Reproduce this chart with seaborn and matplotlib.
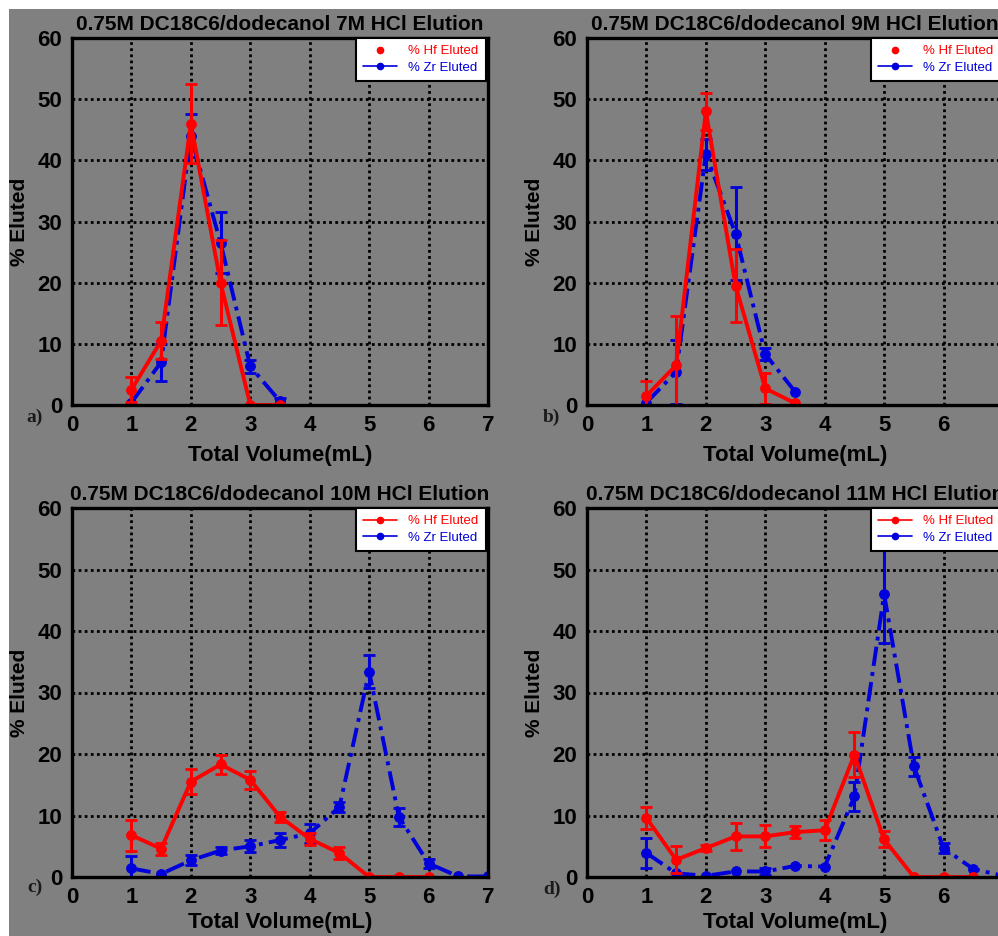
import matplotlib
matplotlib.use("Agg")
import matplotlib.pyplot as plt
from matplotlib.lines import Line2D
from matplotlib.patches import Rectangle
import numpy as np
import pandas as pd
import seaborn as sns

sns.set_theme(style="ticks")
plt.rcParams["font.family"] = ["Liberation Sans", "DejaVu Sans"]

GRAY = "#808080"
HF_COLOR = "#ff0000"
ZR_COLOR = "#0000dc"

titles = [
    "0.75M DC18C6/dodecanol 7M HCl Elution",
    "0.75M DC18C6/dodecanol 9M HCl Elution",
    "0.75M DC18C6/dodecanol 10M HCl Elution",
    "0.75M DC18C6/dodecanol 11M HCl Elution",
]
panel_tags = ["a)", "b)", "c)", "d)"]
hf_label = "% Hf Eluted"
zr_label = "% Zr Eluted"
x_ticks = [0, 1, 2, 3, 4, 5, 6, 7]
y_ticks = [0, 10, 20, 30, 40, 50, 60]

# (a) 7M HCl
vol_a = [1, 1.5, 2, 2.5, 3, 3.5]
hf_a = [2.5, 10.5, 46, 20, 0, 0]
hf_a_err = [2, 3, 6.5, 7, 0, 0]
zr_a = [0.4, 7, 44, 26.5, 6.3, 0.6]
zr_a_err = [0, 3, 3.5, 5, 1, 0.6]

# (b) 9M HCl
vol_b = [1, 1.5, 2, 2.5, 3, 3.5]
hf_b = [1.5, 6.5, 48, 19.5, 2.7, 0.3]
hf_b_err = [2.5, 8, 3, 6, 2.5, 0]
zr_b = [0.4, 5.4, 41, 28, 8.3, 2.2]
zr_b_err = [0, 5.3, 2.5, 7.6, 1, 0]

# (c) 10M HCl
vol_c_hf = [1, 1.5, 2, 2.5, 3, 3.5, 4, 4.5, 5, 5.5, 6]
hf_c = [6.8, 4.6, 15.5, 18.3, 15.8, 9.8, 6.2, 3.9, 0, 0, 0]
hf_c_err = [2.5, 1, 2, 1.5, 1.5, 0.8, 1, 1, 0, 0, 0]
vol_c_zr = [1, 1.5, 2, 2.5, 3, 3.5, 4, 4.5, 5, 5.5, 6, 6.5, 7]
zr_c = [1.4, 0.5, 2.7, 4.3, 5.0, 6.0, 7.1, 11.4, 33.4, 9.8, 2.2, 0.1, 0.1]
zr_c_err = [2, 0, 0.8, 0.5, 1, 1.2, 1.5, 0.8, 2.7, 1.5, 0.8, 0, 0]

# (d) 11M HCl
vol_d_hf = [1, 1.5, 2, 2.5, 3, 3.5, 4, 4.5, 5, 5.5, 6, 6.5]
hf_d = [9.6, 2.8, 4.7, 6.6, 6.6, 7.3, 7.6, 19.9, 6.1, 0, 0, 0]
hf_d_err = [1.8, 2.2, 0.5, 2.2, 1.8, 1, 1.6, 3.7, 1.3, 0, 0, 0]
vol_d_zr = [1, 1.5, 2, 2.5, 3, 3.5, 4, 4.5, 5, 5.5, 6, 6.5, 7]
zr_d = [3.9, 0.6, 0.2, 0.9, 0.9, 1.8, 1.7, 13.1, 46, 18.0, 4.7, 1.3, 0.2]
zr_d_err = [2.4, 0, 0, 0, 0.5, 0, 0, 2.3, 8, 1.5, 0.8, 0, 0]

panels = [
    (vol_a, hf_a, hf_a_err, vol_a, zr_a, zr_a_err),
    (vol_b, hf_b, hf_b_err, vol_b, zr_b, zr_b_err),
    (vol_c_hf, hf_c, hf_c_err, vol_c_zr, zr_c, zr_c_err),
    (vol_d_hf, hf_d, hf_d_err, vol_d_zr, zr_d, zr_d_err),
]
hf_handle_has_line = [False, False, True, True]

W, H = 998, 936
fig = plt.figure(figsize=(W / 100, H / 100), dpi=100, facecolor="white")
fig.add_artist(Rectangle((9 / W, 0), 1, 1 - 9 / H, transform=fig.transFigure,
                         facecolor=GRAY, edgecolor="none", zorder=-10))

# axes boxes in pixels: left, top, right, bottom
boxes = [
    (72, 38, 488, 405),
    (587, 38, 1003, 405),
    (72, 508, 488, 877),
    (587, 508, 1003, 877),
]
xlabel_pad = [7, 7, 3, 3]
tag_pos = [(35, 417), (551, 417), (35, 887), (552, 889)]

zr_dash = (0, (5, 1.6, 1, 1.6))

for i, (box, pdata) in enumerate(zip(boxes, panels)):
    l, t, r, b = box
    ax = fig.add_axes([l / W, 1 - b / H, (r - l) / W, (b - t) / H])
    ax.set_facecolor(GRAY)
    vh, hf, hfe, vz, zr, zre = pdata

    df_hf = pd.DataFrame({"vol": vh, "pct": hf})
    df_zr = pd.DataFrame({"vol": vz, "pct": zr})

    sns.lineplot(data=df_zr, x="vol", y="pct", ax=ax, color=ZR_COLOR,
                 linewidth=2.8, linestyle=zr_dash, marker="o", markersize=7,
                 markeredgecolor=ZR_COLOR, legend=False, zorder=4)
    sns.lineplot(data=df_hf, x="vol", y="pct", ax=ax, color=HF_COLOR,
                 linewidth=2.8, marker="o", markersize=7,
                 markeredgecolor=HF_COLOR, legend=False, zorder=5)

    ze = np.array(zre, dtype=float)
    m = ze > 0
    ax.errorbar(np.array(vz)[m], np.array(zr)[m], yerr=ze[m], fmt="none",
                ecolor=ZR_COLOR, elinewidth=2.2, capsize=4, capthick=2, zorder=4)
    he = np.array(hfe, dtype=float)
    m = he > 0
    ax.errorbar(np.array(vh)[m], np.array(hf)[m], yerr=he[m], fmt="none",
                ecolor=HF_COLOR, elinewidth=2.2, capsize=4, capthick=2, zorder=5)

    ax.set_xlim(0, 7)
    ax.set_ylim(0, 60)
    ax.set_xticks(x_ticks)
    ax.set_yticks(y_ticks)
    ax.tick_params(length=0, labelsize=16, pad=7, colors="black")
    for lab in ax.get_xticklabels() + ax.get_yticklabels():
        lab.set_fontweight("bold")
    ax.grid(True, color="black", linestyle=(0, (1, 1.2)), linewidth=2.0)
    for sp in ax.spines.values():
        sp.set_linewidth(2.4)
        sp.set_color("black")
        sp.set_zorder(6)
    ax.set_axisbelow(True)

    ax.set_title(titles[i], fontsize=15, fontweight="bold", color="black", pad=6)
    ax.set_xlabel("Total Volume(mL)", fontsize=16, fontweight="bold",
                  color="black", labelpad=xlabel_pad[i])
    ax.set_ylabel("% Eluted", fontsize=15, fontweight="bold",
                  color="black", labelpad=6)

    if hf_handle_has_line[i]:
        h_hf = Line2D([], [], color=HF_COLOR, lw=1.2, marker="o", markersize=4.5)
    else:
        h_hf = Line2D([], [], color=HF_COLOR, lw=0, marker="o", markersize=4.5)
    h_zr = Line2D([], [], color=ZR_COLOR, lw=1.2, linestyle="-",
                  marker="o", markersize=4.5)
    leg = ax.legend([h_hf, h_zr], [hf_label, zr_label], loc="upper right",
                    bbox_to_anchor=(0.994, 1.0), fontsize=9.5, frameon=True,
                    fancybox=False, framealpha=1, edgecolor="black",
                    handlelength=2.6, borderpad=0.55, labelspacing=0.3,
                    borderaxespad=0)
    leg.get_frame().set_linewidth(1.5)
    leg.set_zorder(8)
    for txt, col in zip(leg.get_texts(), [HF_COLOR, ZR_COLOR]):
        txt.set_color(col)

    tx, ty = tag_pos[i]
    fig.text(tx / W, 1 - ty / H, panel_tags[i], ha="center", va="center",
             fontsize=14, fontweight="bold", family=["Liberation Serif"],
             color="#1a1a1a")

fig.savefig("out.png", dpi=100, facecolor=fig.get_facecolor())
